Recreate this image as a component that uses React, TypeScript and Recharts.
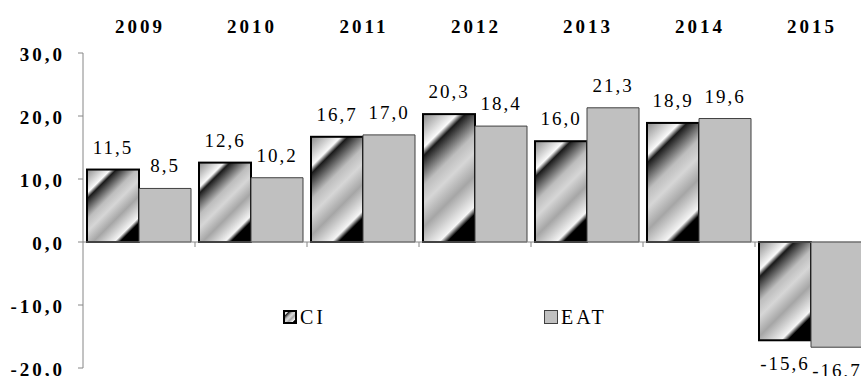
import { BarChart, Bar, XAxis, YAxis, ReferenceLine, LabelList, Legend } from 'recharts'

const years = ['2009', '2010', '2011', '2012', '2013', '2014', '2015']
const ciValues = [11.5, 12.6, 16.7, 20.3, 16.0, 18.9, -15.6]
const eatValues = [8.5, 10.2, 17.0, 18.4, 21.3, 19.6, -16.7]
const yTicks = [-20, -10, 0, 10, 20, 30]

const data = years.map((year, i) => ({ year, CI: ciValues[i], EAT: eatValues[i] }))

const FONT = '"Times New Roman", "Liberation Serif", Tinos, FreeSerif'
const AXIS_GRAY = '#868686'

const fmt = (v: number) => v.toFixed(1).replace('.', ',')

// excel-like diagonal gradient stops for the CI series
const ciStops: [number, string][] = [
  [0, '#8a8a8a'],
  [0.19, '#fafafa'],
  [0.235, '#1a1a1a'],
  [0.4, '#bdbdbd'],
  [0.5, '#d6d6d6'],
  [0.63, '#a6a6a6'],
  [0.8, '#f5f5f5'],
  [0.845, '#000000'],
  [1, '#000000'],
]

function YearTick({ x, y, payload }: any) {
  return (
    <text x={x + 1} y={y} textAnchor="middle" style={{ fontFamily: FONT, fontSize: 19, fontWeight: 'bold', letterSpacing: 3 }} fill="#000">
      {payload.value}
    </text>
  )
}

function ValueTick({ x, y, payload }: any) {
  return (
    <text x={x} y={y + 8} textAnchor="end" style={{ fontFamily: FONT, fontSize: 19, fontWeight: 'bold', letterSpacing: 3 }} fill="#000">
      {fmt(payload.value)}
    </text>
  )
}

// gradient at 45 degrees in screen space, stretched over each bar
function CiBar(props: any) {
  const { x, y, width, height } = props
  if (!width || !height) return null
  const top = height < 0 ? y + height : y
  const h = Math.abs(height)
  const id = `ciBar-${Math.round(x)}`
  const d = (width + h) / 2
  return (
    <g>
      <defs>
        <linearGradient id={id} gradientUnits="userSpaceOnUse" x1={x} y1={top} x2={x + d} y2={top + d}>
          {ciStops.map(([o, c]) => (
            <stop key={o} offset={o} stopColor={c} />
          ))}
        </linearGradient>
      </defs>
      <rect x={x} y={top} width={width} height={h} fill={`url(#${id})`} stroke="#000" strokeWidth={2} />
    </g>
  )
}

// zero line with category boundary tick marks
function ZeroLine(props: any) {
  const { x1, x2, y1 } = props
  const band = (x2 - x1) / years.length
  return (
    <g>
      <line x1={x1} x2={x2} y1={y1} y2={y1} stroke={AXIS_GRAY} strokeWidth={1} />
      {years.map((_, i) => (
        <line key={i} x1={x1 + (i + 1) * band} x2={x1 + (i + 1) * band} y1={y1} y2={y1 + 5} stroke={AXIS_GRAY} strokeWidth={1} />
      ))}
    </g>
  )
}

function LegendBox() {
  const item = (label: string, fill: string, stroke: string, sw: number) => (
    <div style={{ display: 'flex', alignItems: 'center', gap: 3 }}>
      <svg width={14} height={14}>
        <rect x={sw / 2} y={sw / 2} width={14 - sw} height={14 - sw} fill={fill} stroke={stroke} strokeWidth={sw} />
      </svg>
      <span style={{ fontFamily: FONT, fontSize: 20, letterSpacing: 3, color: '#000', lineHeight: '20px' }}>{label}</span>
    </div>
  )
  return (
    <div style={{ display: 'flex', fontFamily: FONT }}>
      <div style={{ width: 261 }}>{item('CI', 'url(#ciGrad)', '#000', 2)}</div>
      {item('EAT', '#c0c0c0', '#404040', 1)}
    </div>
  )
}

const labelStyle = { fontFamily: FONT, fontSize: 19, letterSpacing: 2, fill: '#000' }

export default function App() {
  return (
    <div style={{ position: 'absolute', left: 0, top: 0, width: 861, height: 376, overflow: 'hidden', background: '#fff', fontFamily: FONT }}>
      <BarChart
        width={870}
        height={376}
        data={data}
        margin={{ top: 0, right: 3, bottom: 8, left: 0 }}
        barCategoryGap={4}
        barGap={0}
        style={{ fontFamily: FONT }}
      >
        <defs>
          <linearGradient id="ciGrad" x1="0" y1="0" x2="1" y2="1">
            {ciStops.map(([o, c]) => (
              <stop key={o} offset={o} stopColor={c} />
            ))}
          </linearGradient>
        </defs>
        <XAxis
          dataKey="year"
          orientation="top"
          height={53}
          axisLine={false}
          tickLine={false}
          tickSize={0}
          tickMargin={20}
          tick={<YearTick />}
          interval={0}
        />
        <YAxis
          width={83}
          domain={[-20, 30]}
          ticks={yTicks}
          stroke={AXIS_GRAY}
          tickSize={5}
          tickMargin={13}
          tick={<ValueTick />}
          interval={0}
        />
        <ReferenceLine y={0} shape={<ZeroLine />} />
        <Bar dataKey="CI" shape={(p: any) => <CiBar {...p} />} isAnimationActive={false}>
          <LabelList dataKey="CI" position="top" offset={16} formatter={(v: any) => fmt(Number(v))} style={labelStyle} />
        </Bar>
        <Bar dataKey="EAT" fill="#c0c0c0" stroke="#404040" strokeWidth={1} isAnimationActive={false}>
          <LabelList dataKey="EAT" position="top" offset={16} formatter={(v: any) => fmt(Number(v))} style={labelStyle} />
        </Bar>
        <Legend
          layout="horizontal"
          verticalAlign="middle"
          align="center"
          content={<LegendBox />}
          wrapperStyle={{ position: 'absolute', left: 283, top: 307, width: 400 }}
        />
      </BarChart>
    </div>
  )
}
